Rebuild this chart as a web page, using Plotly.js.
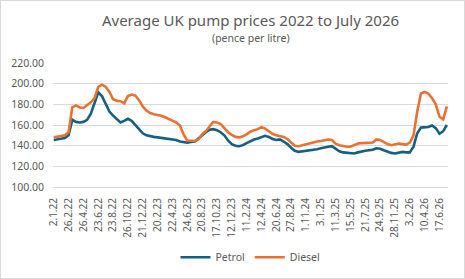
<!DOCTYPE html>
<html>
<head>
<meta charset="utf-8">
<script src="https://cdn.plot.ly/plotly-3.0.1.min.js"></script>
<style>
  html, body { margin: 0; padding: 0; background: #fff; }
  #chart { width: 463px; height: 277px; border: 1px solid #d9d9d9; }
</style>
</head>
<body>
<div id="chart"></div>
<script>
// Tick labels shown on the category axis (one every 4 data points)
const tickLabels = ["2.1.22","26.2.22","26.4.22","23.6.22","23.8.22","26.10.22","21.12.22",
  "20.2.23","22.4.23","24.6.23","20.8.23","17.10.23","12.12.23","11.2.24","12.4.24",
  "20.6.24","27.8.24","1.11.24","3.1.25","11.3.25","15.5.25","21.7.25","24.9.25",
  "28.11.25","3.2.26","10.4.26","17.6.26"];
const pointsPerLabel = 4;

// Petrol, pence per litre
const petrol = [
  145.5,146,146.5,147.5,150,165,163,162.5,163,165,
  171,182,191.5,188,180,173,169,165.5,162.5,164,
  166,164,160,155.5,152,150,149,148.5,148,147.5,
  147,146.5,146.5,145.5,144,143.5,143,143.5,144,147,
  150.5,153,155.5,156,155,153,150,145,141.5,140,
  139.5,140.5,142.5,144.5,146,147,148.5,149.5,148.5,146.5,
  145.5,146,144,141.5,138,135,134,134.5,135,135.5,
  135.5,136.5,137.5,138.5,139,139.5,137,134.5,133.5,133,
  132.5,132.5,133.5,134.5,135,135.5,136,137.5,137,135.5,
  134,133,132.5,133,134,133.5,133.5,139,152,157.5,
  157.5,158,159.5,157,151.5,154,160
];

// Diesel, pence per litre
const diesel = [
  148,148.5,149,150,153,177,179,177,176.5,179,
  182,186,197,199,197,192,185,183.5,183,181,
  188,189.5,188.5,184,178,174,171.5,170.5,170,169,
  167.5,166,164.5,162.5,159.5,151,145,144.5,144.5,146,
  151,154,158,163,162.5,161,157,153,150.5,148.5,
  148,149,151,153.5,155,156,158,156.5,154,151.5,
  150,149.5,148.5,146.5,143,140,139.5,140.5,141.5,142.5,
  143,144,144.5,145.5,146,145.5,142,140.5,139.5,139,
  139,140.5,142,142.5,142.5,142.5,143,146,145.5,143.5,
  141.5,140.5,141,142,141.5,141,143,150,173,190.5,
  192,190.5,186,180,168,165.5,178
];

const idx = petrol.map((_, i) => i);
const tickVals = tickLabels.map((_, k) => k * pointsPerLabel);

const FONT = "Noto Sans, Liberation Sans, sans-serif";
const TXT = "#595959";

const traces = [
  { x: idx, y: petrol, name: "Petrol", type: "scatter", mode: "lines",
    line: { color: "#156082", width: 2.6 } },
  { x: idx, y: diesel, name: "Diesel", type: "scatter", mode: "lines",
    line: { color: "#E97132", width: 2.6 } }
];

const layout = {
  width: 463, height: 277,
  margin: { l: 52, r: 16, t: 62, b: 91, autoexpand: false },
  paper_bgcolor: "#fff", plot_bgcolor: "#fff",
  font: { family: FONT, color: TXT, size: 10 },
  title: {
    text: "Average UK pump prices 2022 to July 2026",
    font: { family: FONT, size: 15, color: TXT },
    x: 0.5, xanchor: "center", xref: "paper",
    y: 0.928, yanchor: "middle"
  },
  annotations: [{
    text: "(pence per litre)", xref: "paper", yref: "paper",
    x: 0.5, y: 1.2, xanchor: "center", yanchor: "middle",
    showarrow: false, font: { family: FONT, size: 10.5, color: TXT }
  }],
  xaxis: {
    type: "linear", range: [-0.2, 106.3],
    tickmode: "array", tickvals: tickVals, ticktext: tickLabels,
    tickangle: -90, tickfont: { family: FONT, size: 10, color: TXT },
    showgrid: false, zeroline: false,
    showline: true, linecolor: "#d9d9d9", linewidth: 1,
    ticks: "", ticklabelstandoff: 6
  },
  yaxis: {
    range: [100, 220], dtick: 20, tickformat: ".2f",
    tickfont: { family: FONT, size: 10.5, color: TXT },
    showgrid: true, gridcolor: "#d9d9d9", gridwidth: 1,
    zeroline: false, showline: false, ticks: "", ticklabelstandoff: 8
  },
  showlegend: true,
  legend: {
    orientation: "h", x: 0.5, xanchor: "center",
    yref: "container", y: 0.075, yanchor: "middle",
    font: { family: FONT, size: 10.5, color: TXT },
    itemwidth: 30
  }
};

Plotly.newPlot("chart", traces, layout, { displayModeBar: false, staticPlot: true });
</script>
</body>
</html>
